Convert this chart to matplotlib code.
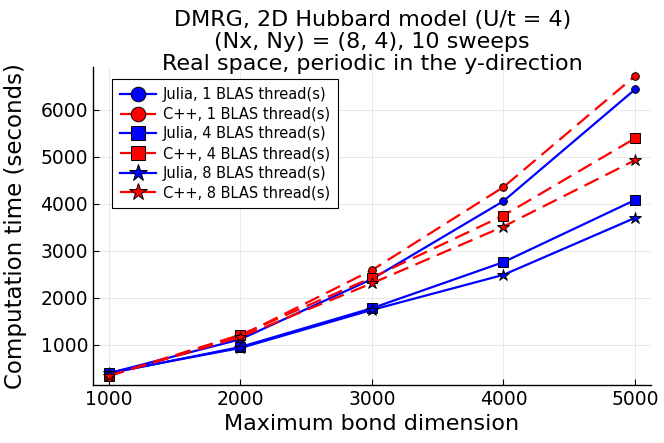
import matplotlib
matplotlib.use("Agg")
import matplotlib.pyplot as plt

bond_dims = [1000, 2000, 3000, 4000, 5000]

julia_1 = [400, 1120, 2400, 4057, 6430]
cpp_1 = [345, 1190, 2590, 4355, 6715]
julia_4 = [395, 957, 1780, 2760, 4080]
cpp_4 = [345, 1215, 2430, 3751, 5390]
julia_8 = [410, 935, 1745, 2490, 3700]
cpp_8 = [345, 1170, 2310, 3517, 4925]

dashed = (0, (7, 3.5))
series = [
    ("Julia, 1 BLAS thread(s)", julia_1, "blue", "-", "o"),
    ("C++, 1 BLAS thread(s)", cpp_1, "red", dashed, "o"),
    ("Julia, 4 BLAS thread(s)", julia_4, "blue", "-", "s"),
    ("C++, 4 BLAS thread(s)", cpp_4, "red", dashed, "s"),
    ("Julia, 8 BLAS thread(s)", julia_8, "blue", "-", "*"),
    ("C++, 8 BLAS thread(s)", cpp_8, "red", dashed, "*"),
]
plot_ms = {"o": 5.5, "s": 6.5, "*": 9}
legend_ms = {"o": 10.5, "s": 10.5, "*": 13}

plt.rcParams["font.family"] = "DejaVu Sans"

fig = plt.figure(figsize=(6.64, 4.43), dpi=100)
ax = fig.add_axes([0.140, 0.131, 0.840, 0.718])

for label, vals, color, ls, mk in series:
    ax.plot(bond_dims, vals, color=color, linestyle=ls, linewidth=1.6,
            marker=mk, markersize=plot_ms[mk], markeredgecolor="black",
            markeredgewidth=0.7, label=label)

ax.set_xlim(880, 5120)
ax.set_ylim(150, 6910)
ax.set_xticks([1000, 2000, 3000, 4000, 5000])
ax.set_yticks([1000, 2000, 3000, 4000, 5000, 6000])
ax.grid(True, color="black", alpha=0.1, linewidth=0.6)
for side in ["top", "right"]:
    ax.spines[side].set_visible(False)
for side in ["left", "bottom"]:
    ax.spines[side].set_linewidth(1.0)
ax.tick_params(direction="in", length=4, labelsize=13.5)

ax.set_xlabel("Maximum bond dimension", fontsize=16)
ax.set_ylabel("Computation time (seconds)", fontsize=16.5, labelpad=10)
fig.text(0.5605, 0.978, "DMRG, 2D Hubbard model (U/t = 4)\n(Nx, Ny) = (8, 4), 10 sweeps\nReal space, periodic in the y-direction",
         fontsize=16, linespacing=1.12, ha="center", va="top")

leg = ax.legend(loc="upper left", bbox_to_anchor=(0.034, 0.962), borderaxespad=0,
                fontsize=10.5, fancybox=False, framealpha=1, edgecolor="black",
                handlelength=2.5, handletextpad=0.45, labelspacing=0.32,
                borderpad=0.55)
leg.get_frame().set_linewidth(0.8)
for h, (_, _, _, _, mk) in zip(leg.legend_handles, series):
    h.set_markersize(legend_ms[mk])

plt.savefig("out.png", dpi=100)
plt.close()
